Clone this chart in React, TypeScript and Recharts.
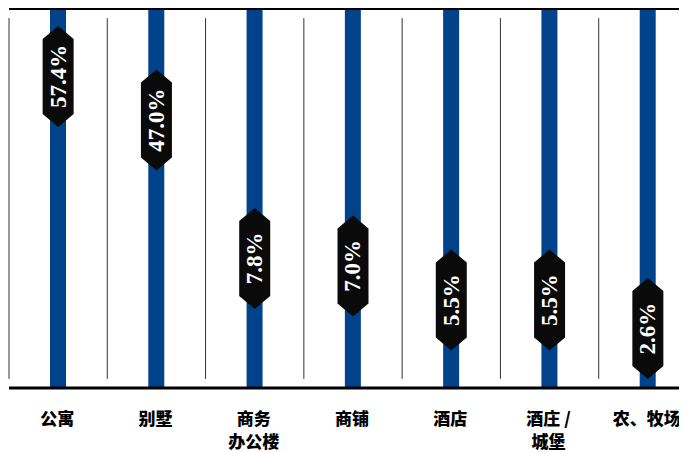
import React from 'react';
import { ComposedChart, Bar, Scatter, XAxis, YAxis, ReferenceLine } from 'recharts';

// property types
const categories = ['公寓', '别墅', '商务\n办公楼', '商铺', '酒店', '酒庄 /\n城堡', '农、牧场'];
// share of listings, percent
const shares = [57.4, 47.0, 7.8, 7.0, 5.5, 5.5, 2.6];
// where each tag sits on the 0-100 track
const tagLevels = [82.2, 70.7, 34.2, 32.2, 23.2, 23.2, 15.7];
const trackTop = 100;

const BAR_COLOR = '#00438a';

const data = categories.map((name, i) => ({
  x: i + 0.5,
  name,
  track: trackTop,
  share: shares[i],
  level: tagLevels[i],
}));

const HexTag = (props: any) => {
  const { cx, cy, payload } = props;
  if (cx == null || cy == null) return null;
  const w = 15.5;
  const h = 50.5;
  const tip = 13;
  const pts = [
    [cx, cy - h],
    [cx + w, cy - h + tip],
    [cx + w, cy + h - tip],
    [cx, cy + h],
    [cx - w, cy + h - tip],
    [cx - w, cy - h + tip],
  ]
    .map(p => p.join(','))
    .join(' ');
  return (
    <g>
      <polygon points={pts} fill="#0a0a0a" />
      <text
        x={cx}
        y={cy}
        transform={`rotate(-90 ${cx} ${cy})`}
        textAnchor="middle"
        dominantBaseline="central"
        fill="#fff"
        fontFamily="'Liberation Serif', 'DejaVu Serif', serif"
        fontWeight="bold"
        fontSize={23}
      >
        {payload.share.toFixed(1)}%
      </text>
    </g>
  );
};

const CategoryTick = (props: any) => {
  const { x, y, payload } = props;
  const idx = Math.round(payload.value - 0.5);
  const lines = (categories[idx] || '').split('\n');
  return (
    <text
      x={x - 1}
      y={y + 29}
      textAnchor="middle"
      fill="#000"
      fontFamily="'Noto Sans CJK SC', 'Noto Sans', sans-serif"
      fontWeight={900}
      fontSize={17}
    >
      {lines.map((line, i) => (
        <tspan key={i} x={x - 1} dy={i === 0 ? 0 : 23}>
          {line}
        </tspan>
      ))}
    </text>
  );
};

export default function App() {
  const boundaries = Array.from({ length: categories.length + 1 }, (_, i) => i);
  return (
    <div style={{ width: 679, height: 444, overflow: 'hidden' }}>
      <ComposedChart
        width={689}
        height={444}
        data={data}
        margin={{ top: 1, right: 0, bottom: 0, left: 1 }}
      >
        <XAxis
          type="number"
          dataKey="x"
          domain={[0, categories.length]}
          ticks={data.map(d => d.x)}
          interval={0}
          height={64}
          tickLine={false}
          axisLine={{ stroke: '#000', strokeWidth: 3 }}
          tick={<CategoryTick />}
        />
        <YAxis type="number" domain={[0, trackTop]} hide />
        {boundaries.map(b => (
          <ReferenceLine
            key={b}
            segment={[
              { x: b, y: 2.4 },
              { x: b, y: 97.6 },
            ]}
            stroke="#333"
            strokeWidth={1}
          />
        ))}
        <Bar dataKey="track" fill={BAR_COLOR} barSize={16} isAnimationActive={false} />
        <ReferenceLine y={trackTop} stroke="#000" strokeWidth={2} />
        <Scatter dataKey="level" shape={<HexTag />} isAnimationActive={false} />
      </ComposedChart>
    </div>
  );
}
